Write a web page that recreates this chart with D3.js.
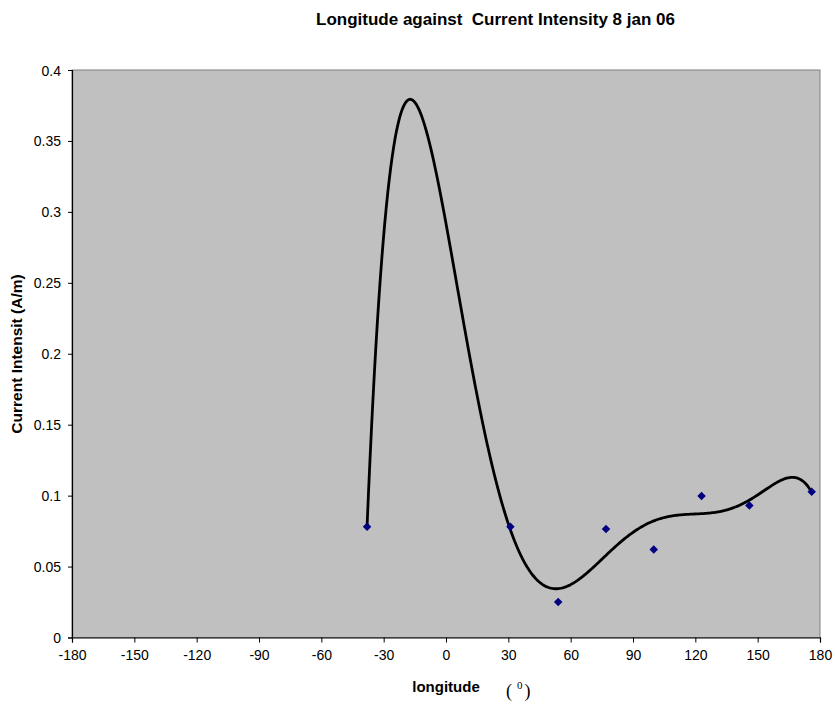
<!DOCTYPE html>
<html><head><meta charset="utf-8">
<script src="https://cdn.jsdelivr.net/npm/d3@7"></script>
<style>
body{margin:0;background:#fff;}
svg{display:block;font-family:Arial,"Liberation Sans",sans-serif;}
</style></head>
<body>
<svg id="chart" width="835" height="704"></svg>
<script>
const longitudes = [-38, 31, 54, 77, 100, 123, 146, 176];
const intensities = [0.078, 0.078, 0.025, 0.0765, 0.062, 0.0997, 0.093, 0.1028];
const xTicks = [-180,-150,-120,-90,-60,-30,0,30,60,90,120,150,180];
const yTicks = [0,0.05,0.1,0.15,0.2,0.25,0.3,0.35,0.4];
const trendOrder = 6;

const svg = d3.select("#chart");
const L = 72, R = 820, T = 70, B = 637.5;
const x = d3.scaleLinear().domain([-180,180]).range([L,R]);
const y = d3.scaleLinear().domain([0,0.4]).range([B,T]);

svg.append("rect").attr("x",L).attr("y",T).attr("width",R-L).attr("height",B-T)
  .attr("fill","#C0C0C0").attr("stroke","#808080").attr("stroke-width",1);

// polynomial least squares trendline
function polyfit(xs, ys, n){
  const c = 70, s = 110;
  const t = xs.map(v => (v-c)/s);
  const m = n+1;
  const A = Array.from({length:m},()=>new Array(m+1).fill(0));
  for(let k=0;k<t.length;k++){
    for(let i=0;i<m;i++){
      for(let j=0;j<m;j++) A[i][j]+=Math.pow(t[k],i+j);
      A[i][m]+=ys[k]*Math.pow(t[k],i);
    }
  }
  for(let i=0;i<m;i++){
    let p=i; for(let r=i+1;r<m;r++) if(Math.abs(A[r][i])>Math.abs(A[p][i])) p=r;
    [A[i],A[p]]=[A[p],A[i]];
    for(let r=0;r<m;r++){ if(r===i) continue; const f=A[r][i]/A[i][i];
      for(let cc=i;cc<=m;cc++) A[r][cc]-=f*A[i][cc]; }
  }
  const coef = A.map((row,i)=>row[m]/row[i]);
  return v => { const tt=(v-c)/s; let r=0; for(let i=m-1;i>=0;i--) r=r*tt+coef[i]; return r; };
}
const f = polyfit(longitudes, intensities, trendOrder);
const xs = d3.range(0,301).map(i => longitudes[0] + (longitudes[longitudes.length-1]-longitudes[0])*i/300);
svg.append("path").datum(xs)
  .attr("d", d3.line().x(d=>x(d)).y(d=>y(f(d))))
  .attr("fill","none").attr("stroke","#000").attr("stroke-width",2.8);

svg.selectAll(".pt").data(longitudes).enter().append("path")
  .attr("d", d3.symbol(d3.symbolSquare, 36)())
  .attr("transform",(d,i)=>`translate(${x(d)},${y(intensities[i])}) rotate(45)`)
  .attr("fill","#000080");

const xAxis = svg.append("g").attr("transform",`translate(0,${B})`)
  .call(d3.axisBottom(x).tickValues(xTicks).tickSize(5).tickPadding(8).tickFormat(d=>String(d)));
const yAxis = svg.append("g").attr("transform",`translate(${L},0)`)
  .call(d3.axisLeft(y).tickValues(yTicks).tickSize(4).tickPadding(7).tickFormat(d=>d===0?"0":String(+d.toFixed(2))));
[xAxis,yAxis].forEach(g=>{
  g.select(".domain").attr("stroke","#000").attr("stroke-width",1.2);
  g.selectAll(".tick line").attr("stroke","#000");
  g.selectAll("text").attr("font-size",14).attr("font-family","Arial,'Liberation Sans',sans-serif").attr("fill","#000");
});
yAxis.selectAll("text").attr("dy","0.36em");

svg.append("text").attr("x",495.5).attr("y",25).attr("text-anchor","middle")
  .style("white-space","pre")
  .attr("font-size",17).attr("font-weight","bold").text("Longitude against  Current Intensity 8 jan 06");
svg.append("text").attr("x",446).attr("y",692).attr("text-anchor","middle")
  .attr("font-size",15).attr("font-weight","bold").text("longitude");
const deg = svg.append("text").attr("x",506).attr("y",697)
  .attr("font-family","'Liberation Serif','Times New Roman',serif").attr("font-size",18);
deg.append("tspan").text("(");
deg.append("tspan").attr("dy",-8).attr("font-size",11).attr("dx",5).text("0");
deg.append("tspan").attr("dy",8).attr("dx",2).text(")");
svg.append("text").attr("transform","translate(22,354) rotate(-90)").attr("text-anchor","middle")
  .attr("font-size",15.5).attr("font-weight","bold").text("Current Intensit (A/m)");
</script>
</body></html>
